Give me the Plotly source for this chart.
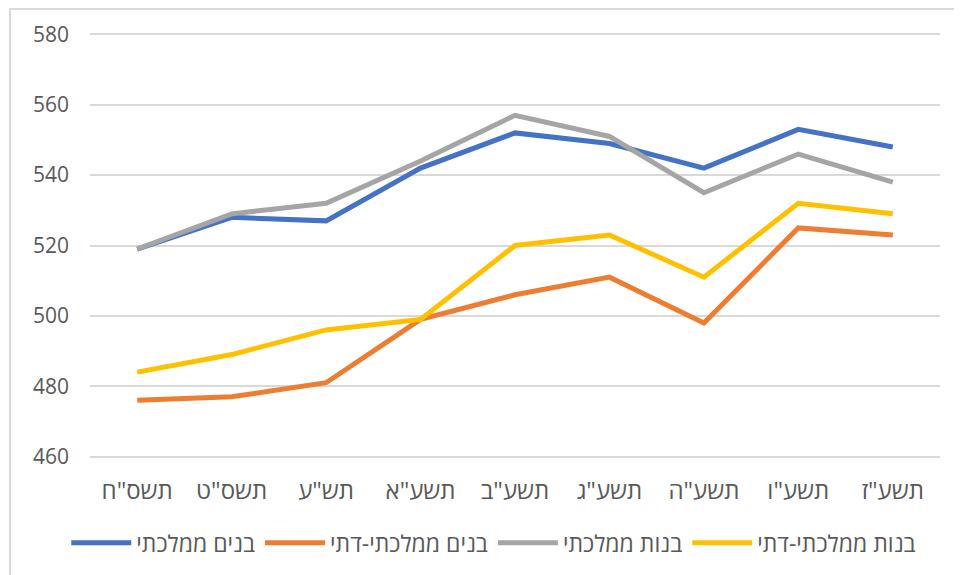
import plotly.graph_objects as go

years = ['תשס"ח', 'תשס"ט', 'תש"ע', 'תשע"א', 'תשע"ב', 'תשע"ג', 'תשע"ה', 'תשע"ו', 'תשע"ז']

boys_state = [519, 528, 527, 542, 552, 549, 542, 553, 548]
boys_religious = [476, 477, 481, 499, 506, 511, 498, 525, 523]
girls_state = [519, 529, 532, 544, 557, 551, 535, 546, 538]
girls_religious = [484, 489, 496, 499, 520, 523, 511, 532, 529]

y_ticks = [460, 480, 500, 520, 540, 560, 580]

series = [
    ("בנים ממלכתי", boys_state, "#4472c4"),
    ("בנים ממלכתי-דתי", boys_religious, "#ed7d31"),
    ("בנות ממלכתי", girls_state, "#a5a5a5"),
    ("בנות ממלכתי-דתי", girls_religious, "#ffc000"),
]

fig = go.Figure()
for name, vals, color in series:
    fig.add_trace(go.Scatter(x=years, y=vals, name=name, mode="lines",
                             line=dict(color=color, width=5)))

# the page body adds 8px on the left and top, so the figure is a bit smaller
fig.update_layout(
    width=954, height=567,
    margin=dict(l=82, r=22, t=25, b=116),
    paper_bgcolor="white", plot_bgcolor="white",
    font=dict(family="Open Sans", size=21, color="#595959"),
    showlegend=True,
    legend=dict(orientation="h", x=0.475, xanchor="center", y=-0.197, yanchor="middle",
                font=dict(size=23), itemwidth=60, tracegroupgap=0),
    xaxis=dict(range=[-0.5, 8.5], showgrid=False, showline=False, ticks="",
               tickfont=dict(size=24), ticklabelstandoff=16, automargin=False),
    yaxis=dict(range=[459.6, 580.4], tickvals=y_ticks, showgrid=True, gridcolor="#d9d9d9",
               gridwidth=1.5, zeroline=False, showline=False, ticks="", ticklabelstandoff=20,
               automargin=False),
    shapes=[dict(type="rect", xref="paper", yref="paper", x0=-80/850, x1=1.1,
                 y0=-0.4, y1=1 + 24/426, line=dict(color="#d9d9d9", width=2),
                 layer="below")],
)

fig.write_html("out.html")
